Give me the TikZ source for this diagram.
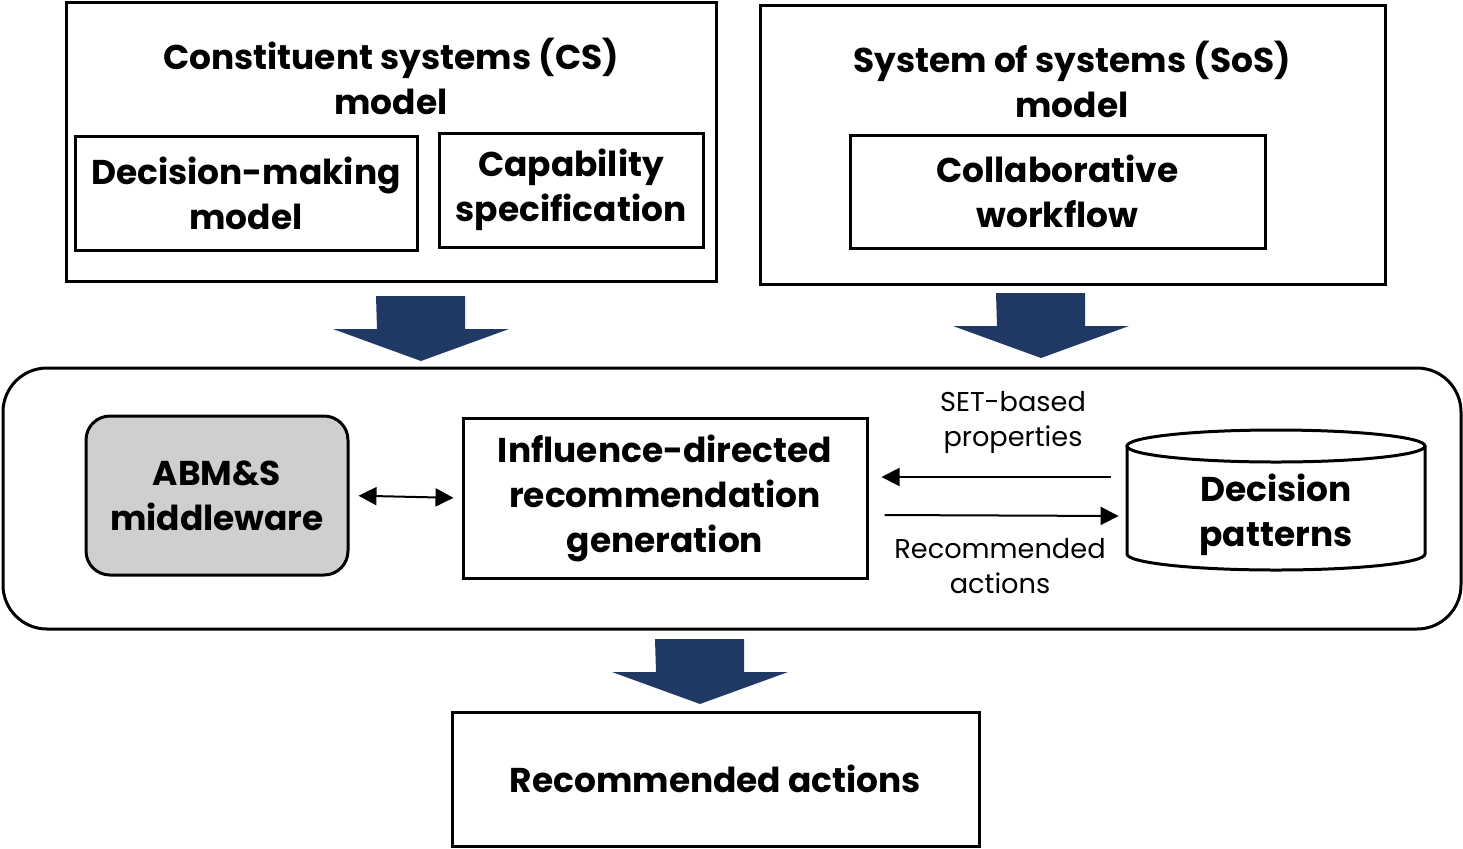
\documentclass[tikz,border=0pt]{standalone}
\usepackage{fontspec}
\setmainfont{Poppins}
\usetikzlibrary{arrows.meta,positioning,calc}
\definecolor{flownavy}{HTML}{203864}
\definecolor{middlegray}{HTML}{D0CECE}

\begin{document}
\begin{tikzpicture}[x=0.5pt, y=-0.5pt,
  box/.style={draw=black, line width=1.5pt, align=center, inner sep=0pt,
              font=\bfseries\fontsize{17.2}{22.5}\selectfont},
  heading/.style={align=center, inner sep=0pt, font=\bfseries\fontsize{17.2}{22.5}\selectfont},
  note/.style={align=center, inner sep=0pt, font=\fontsize{13.6}{17.5}\selectfont},
  arr/.style={-{Triangle[length=9pt, width=9pt]}, line width=1pt},
  darr/.style={{Triangle[length=9pt, width=9pt]}-{Triangle[length=9pt, width=9pt]}, line width=1pt}
]
\useasboundingbox (0,0) rectangle (1463,848);

% input models
\node[box, minimum width=325pt, minimum height=139.5pt] (csmodel) at (391,141.5) {};
\node[heading] (cstitle) at (391,76) {Constituent systems (CS)\\model};
\node[box, minimum width=171pt, minimum height=57pt] (decision) at (246,193) {Decision-making\\model};
\node[box, minimum width=132pt, minimum height=57pt] (capability) at (571,190) {Capability\\specification};

\node[box, minimum width=312.5pt, minimum height=139.5pt] (sosmodel) at (1072.5,144.5) {};
\node[heading] (sostitle) at (1072,79) {System of systems (SoS)\\model};
\node[box, minimum width=207.5pt, minimum height=56.5pt] (workflow) at (1057.5,191.5) {Collaborative\\workflow};

% block arrows
\foreach \cx/\ty in {421/296, 1041/293, 700/639}
  \fill[flownavy] (\cx-45,\ty) -- ++(89,0) -- ++(0,33) -- ++(44,0) -- ++(-88,32)
    -- ++(-88,-32) -- ++(44,0) -- cycle;

% recommendation engine
\node[box, rounded corners=22pt, minimum width=729pt, minimum height=130.5pt] (engine) at (732,498.5) {};
\node[box, rounded corners=12pt, fill=middlegray, minimum width=131pt, minimum height=79.5pt] (abms) at (217,495.5) {ABM\&S\\middleware};
\node[box, minimum width=202pt, minimum height=80pt] (influence) at (665,498) {Influence-directed\\recommendation\\generation};

\draw[line width=1.5pt, fill=white] (1127,446) -- (1127,554)
  arc[start angle=180, end angle=0, x radius=149, y radius=16] -- (1425,446);
\draw[line width=1.5pt] (1276,446) ellipse[x radius=149, y radius=16];
\node[heading, minimum width=149pt] (patterns) at (1276,514.5) {Decision\\patterns};

\draw[darr, shorten <=4.5pt, shorten >=4pt] (abms.east) -- (influence.west);
\draw[arr] ($(patterns.west)+(-16,-37.5)$) -- ($(influence.east)+(13,-21)$);
\draw[arr] ($(influence.east)+(16,17)$) -- ($(patterns.west)+(-8,1.5)$);
\node[note] (setlabel) at (1013,422) {SET-based\\properties};
\node[note] (reclabel) at (1000,566) {Recommended\\actions};

% output
\node[box, minimum width=263.5pt, minimum height=67pt] (actions) at (715.5,779) {Recommended actions};
\end{tikzpicture}
\end{document}
